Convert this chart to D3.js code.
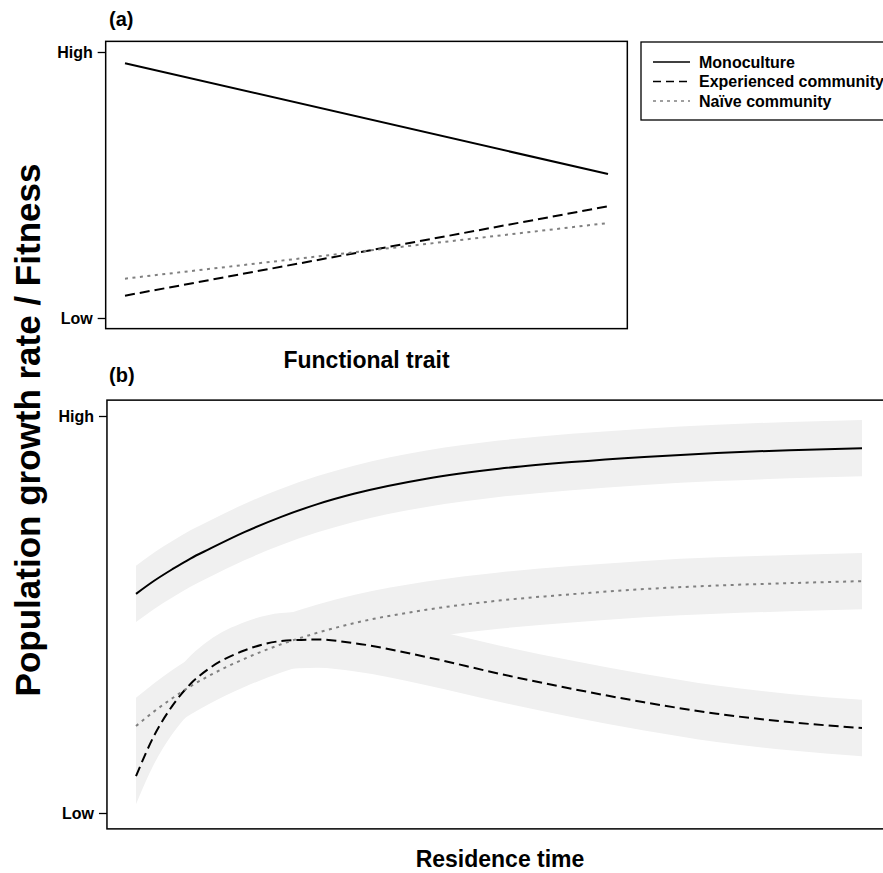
<!DOCTYPE html>
<html><head><meta charset="utf-8">
<script src="https://cdn.jsdelivr.net/npm/d3@7"></script>
<style>
body{margin:0;background:#fff}
svg{display:block;font-family:"Liberation Sans",Arial,Helvetica,sans-serif;font-weight:bold}
</style>
</head><body>
<svg id="chart" width="883" height="873"></svg>
<script>
// ---------- data ----------
const seriesNames = ["Monoculture", "Experienced community", "Naïve community"];
const yTickValues = [0, 1];
const yTickLabels = ["Low", "High"];

// panel (a): fitness vs functional trait
const traitX = [0, 1];
const traitMono = [0.958, 0.541];
const traitExp = [0.084, 0.420];
const traitNaive = [0.148, 0.357];

// panel (b): fitness vs residence time
const residenceTime = [0, 0.025, 0.05, 0.075, 0.1, 0.15, 0.2, 0.25, 0.3, 0.4, 0.5, 0.6, 0.7, 0.8, 0.9, 1.0];
const timeMono  = [0.552, 0.585, 0.614, 0.641, 0.664, 0.708, 0.746, 0.778, 0.804, 0.842, 0.867, 0.884, 0.897, 0.907, 0.914, 0.919];
const timeExp   = [0.093, 0.195, 0.270, 0.325, 0.363, 0.410, 0.433, 0.437, 0.428, 0.393, 0.351, 0.313, 0.279, 0.250, 0.229, 0.214];
const timeNaive = [0.219, 0.256, 0.289, 0.319, 0.345, 0.389, 0.425, 0.454, 0.478, 0.512, 0.535, 0.551, 0.564, 0.573, 0.579, 0.584];
const bandHalfWidth = [0.071, 0.071, 0.071];

// ---------- styles ----------
const lineStyles = [
  {stroke: "#000", dash: null, width: 2},
  {stroke: "#000", dash: "10,5", width: 2},
  {stroke: "#808080", dash: "3,4.5", width: 2}
];

const svg = d3.select("#chart");
svg.append("rect").attr("width", 883).attr("height", 873).attr("fill", "#fff");

function drawYAxis(g, scale, x) {
  const ax = d3.axisLeft(scale).tickValues(yTickValues)
    .tickFormat((d, i) => yTickLabels[i]).tickSize(8).tickPadding(5);
  const a = g.append("g").attr("transform", `translate(${x},0)`).call(ax);
  a.select(".domain").remove();
  a.selectAll("line").attr("stroke", "#000").attr("stroke-width", 1.3);
  a.selectAll("text").attr("font-size", 16).attr("font-weight", "bold")
    .attr("font-family", '"Liberation Sans",Arial,sans-serif').attr("fill", "#000");
}

// ---------- panel (a) ----------
const xA = d3.scaleLinear().domain([0, 1]).range([125, 608]);
const yA = d3.scaleLinear().domain([0, 1]).range([318, 52]);
const gA = svg.append("g");
const seriesA = [traitMono, traitExp, traitNaive];
const lineA = d3.line().x((d, i) => xA(traitX[i])).y(d => yA(d));
seriesA.forEach((s, k) => {
  gA.append("path").attr("d", lineA(s)).attr("fill", "none")
    .attr("stroke", lineStyles[k].stroke).attr("stroke-width", lineStyles[k].width)
    .attr("stroke-dasharray", lineStyles[k].dash);
});
gA.append("rect").attr("x", xA(-0.04)).attr("y", yA(1.04))
  .attr("width", xA(1.04) - xA(-0.04)).attr("height", yA(-0.04) - yA(1.04))
  .attr("fill", "none").attr("stroke", "#000").attr("stroke-width", 1.5);
drawYAxis(gA, yA, xA(-0.04));
gA.append("text").attr("x", 109).attr("y", 26).attr("font-size", 20).text("(a)");
gA.append("text").attr("x", (xA(-0.04) + xA(1.04)) / 2).attr("y", 368)
  .attr("text-anchor", "middle").attr("font-size", 23).text("Functional trait");

// legend
const lg = svg.append("g");
lg.append("rect").attr("x", 641).attr("y", 42).attr("width", 300).attr("height", 78)
  .attr("fill", "#fff").attr("stroke", "#000").attr("stroke-width", 1.3);
seriesNames.forEach((n, k) => {
  const y = 62 + k * 19.5;
  lg.append("line").attr("x1", 653).attr("x2", 690).attr("y1", y).attr("y2", y)
    .attr("stroke", lineStyles[k].stroke).attr("stroke-width", 1.5)
    .attr("stroke-dasharray", lineStyles[k].dash ? (k === 1 ? "8,5" : "3,4") : null);
  lg.append("text").attr("x", 699).attr("y", y + 5.5).attr("font-size", 16).text(n);
});

// ---------- panel (b) ----------
const xB = d3.scaleLinear().domain([0, 1]).range([136, 862]);
const yB = d3.scaleLinear().domain([0, 1]).range([813, 416]);
const gB = svg.append("g");
const seriesB = [timeMono, timeExp, timeNaive];
seriesB.forEach((s, k) => {
  const area = d3.area().curve(d3.curveMonotoneX)
    .x((d, i) => xB(residenceTime[i]))
    .y0(d => yB(d - bandHalfWidth[k])).y1(d => yB(d + bandHalfWidth[k]));
  gB.append("path").attr("d", area(s)).attr("fill", "#f0f0f0").attr("stroke", "none");
});
const lineB = d3.line().curve(d3.curveMonotoneX).x((d, i) => xB(residenceTime[i])).y(d => yB(d));
seriesB.forEach((s, k) => {
  gB.append("path").attr("d", lineB(s)).attr("fill", "none")
    .attr("stroke", lineStyles[k].stroke).attr("stroke-width", lineStyles[k].width)
    .attr("stroke-dasharray", lineStyles[k].dash);
});
gB.append("rect").attr("x", xB(-0.04)).attr("y", yB(1.04))
  .attr("width", xB(1.04) - xB(-0.04)).attr("height", yB(-0.04) - yB(1.04))
  .attr("fill", "none").attr("stroke", "#000").attr("stroke-width", 1.5);
drawYAxis(gB, yB, xB(-0.04));
gB.append("text").attr("x", 109).attr("y", 382).attr("font-size", 20).text("(b)");
gB.append("text").attr("x", 500).attr("y", 867)
  .attr("text-anchor", "middle").attr("font-size", 23).text("Residence time");

// shared y title
svg.append("text").attr("transform", "translate(40,430) rotate(-90)")
  .attr("text-anchor", "middle").attr("font-size", 35).text("Population growth rate / Fitness");
</script>
</body></html>
